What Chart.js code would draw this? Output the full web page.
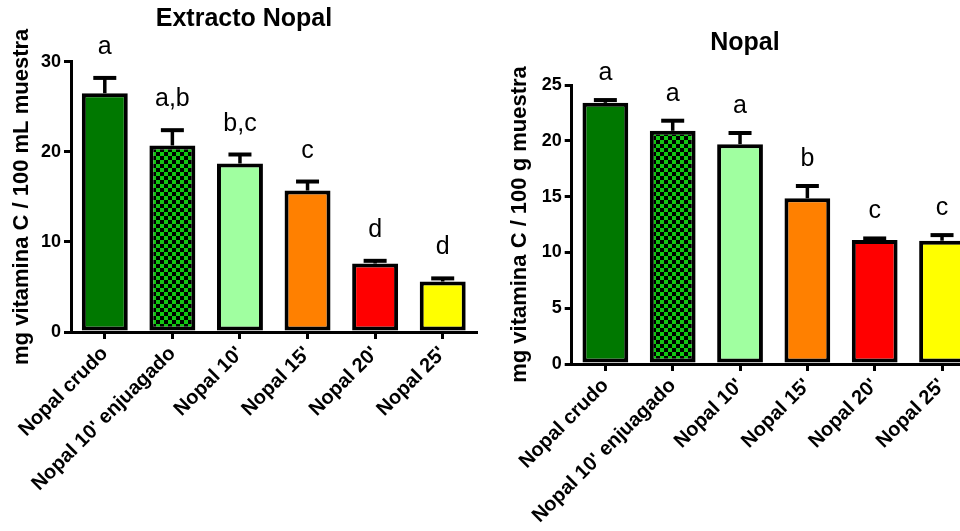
<!DOCTYPE html>
<html>
<head>
<meta charset="utf-8">
<script src="https://cdn.jsdelivr.net/npm/chart.js@4.4.1/dist/chart.umd.min.js"></script>
<style>
  html, body { margin: 0; padding: 0; background: #fff; }
  #wrap { position: relative; width: 960px; height: 531px; overflow: hidden; background: #fff; }
  #extracto { position: absolute; left: 0; top: 0; }
  #nopal { position: absolute; left: 480px; top: 0; }
</style>
</head>
<body>
<div id="wrap">
  <canvas id="extracto" width="488" height="531"></canvas>
  <canvas id="nopal" width="530" height="531"></canvas>
</div>
<script>
// Treatments (same for both panels)
const categories = ["Nopal crudo", "Nopal 10' enjuagado", "Nopal 10'", "Nopal 15'", "Nopal 20'", "Nopal 25'"];

// Vitamin C in the extract (mg / 100 mL): means and standard errors
const extractoMeans = [26.5, 20.7, 18.7, 15.7, 7.6, 5.6];
const extractoErrors = [1.7, 1.7, 1.0, 1.0, 0.3, 0.35];
const extractoLetters = ["a", "a,b", "b,c", "c", "d", "d"];
const extractoTicks = [0, 10, 20, 30];

// Vitamin C in the cladode (mg / 100 g): means and standard errors
const nopalMeans = [23.4, 20.9, 19.7, 14.85, 11.1, 11.05];
const nopalErrors = [0.25, 0.9, 1.0, 1.1, 0.15, 0.5];
const nopalLetters = ["a", "a", "a", "b", "c", "c"];
const nopalTicks = [0, 5, 10, 15, 20, 25];

const FONT = "'Liberation Sans', Arial, Helvetica, sans-serif";
Chart.defaults.font.family = FONT;
Chart.defaults.color = '#000';

// Black / green checkerboard fill for the rinsed sample
function checkerPattern() {
  const c = document.createElement('canvas');
  c.width = 8; c.height = 8;
  const g = c.getContext('2d');
  g.fillStyle = '#000';
  g.fillRect(0, 0, 8, 8);
  g.fillStyle = '#12c812';
  g.fillRect(0, 0, 4, 4);
  g.fillRect(4, 4, 4, 4);
  return g.createPattern(c, 'repeat');
}
const barColors = ['#007800', checkerPattern(), '#a0ffa0', '#ff8000', '#ff0000', '#ffff00'];

// Upper error bars (mean + SE) and significance letters above each bar
const errorBars = {
  id: 'errorBars',
  afterDatasetsDraw(chart, args, opts) {
    const { ctx } = chart;
    const y = chart.scales.y;
    const values = chart.data.datasets[0].data;
    const meta = chart.getDatasetMeta(0);
    ctx.save();
    ctx.strokeStyle = '#000';
    ctx.fillStyle = '#000';
    ctx.lineCap = 'butt';
    meta.data.forEach((bar, i) => {
      const top = y.getPixelForValue(values[i]);
      const end = y.getPixelForValue(values[i] + opts.errors[i]);
      ctx.lineWidth = 3.5;
      ctx.beginPath();
      ctx.moveTo(bar.x, top);
      ctx.lineTo(bar.x, end);
      ctx.stroke();
      ctx.lineWidth = 4;
      ctx.beginPath();
      ctx.moveTo(bar.x - 11.5, end);
      ctx.lineTo(bar.x + 11.5, end);
      ctx.stroke();
      ctx.font = '25px ' + FONT;
      ctx.textAlign = 'center';
      ctx.textBaseline = 'alphabetic';
      ctx.fillText(opts.letters[i], bar.x, end - opts.gap);
    });
    ctx.restore();
  }
};

function makeChart(id, cfg) {
  return new Chart(document.getElementById(id), {
    type: 'bar',
    data: {
      labels: categories,
      datasets: [{
        data: cfg.values,
        backgroundColor: barColors,
        borderColor: '#000',
        borderWidth: 4,
        borderSkipped: false,
        barPercentage: 0.68,
        categoryPercentage: 1
      }]
    },
    options: {
      responsive: false,
      animation: false,
      devicePixelRatio: 1,
      layout: { padding: 0 },
      plugins: {
        legend: { display: false },
        tooltip: { enabled: false },
        title: {
          display: true,
          text: cfg.title,
          color: '#000',
          font: { size: 25, weight: 'bold' },
          padding: { top: cfg.titleTop, bottom: cfg.titleBottom }
        },
        errorBars: { errors: cfg.errors, letters: cfg.letters, gap: cfg.gap }
      },
      scales: {
        x: {
          offset: true,
          grid: { display: true, offset: false, drawOnChartArea: false, drawTicks: true, tickLength: 7, lineWidth: 3, color: '#000' },
          border: { display: true, color: '#000', width: 3 },
          ticks: { autoSkip: false, maxRotation: 45, minRotation: 45, padding: 3, color: '#000', font: { size: 20, weight: 'bold' } },
          afterFit: s => { s.height = cfg.xHeight; s.paddingLeft = 0; s.paddingRight = 0; }
        },
        y: {
          min: 0,
          max: cfg.ticks[cfg.ticks.length - 1],
          afterBuildTicks: s => { s.ticks = cfg.ticks.map(v => ({ value: v })); },
          grid: { drawOnChartArea: false, drawTicks: true, tickLength: 7, lineWidth: 3, color: '#000' },
          border: { display: true, color: '#000', width: 3 },
          ticks: { padding: 3, color: '#000', font: { size: 18, weight: 'bold' } },
          title: {
            display: true,
            text: cfg.yTitle,
            color: '#000',
            font: { size: 22, weight: 'bold' },
            padding: { top: cfg.yTitlePad, bottom: 0 }
          },
          afterFit: s => { s.width = cfg.yWidth; s.paddingTop = 0; s.paddingBottom = 0; }
        },
        gap: {
          type: 'linear',
          position: 'right',
          display: true,
          grid: { display: false },
          border: { display: false },
          ticks: { display: false },
          afterFit: s => { s.width = cfg.rightGap; }
        }
      }
    },
    plugins: [errorBars]
  });
}

makeChart('extracto', {
  title: 'Extracto Nopal',
  yTitle: 'mg vitamina C / 100 mL muestra',
  values: extractoMeans,
  errors: extractoErrors,
  letters: extractoLetters,
  ticks: extractoTicks,
  gap: 24,
  titleTop: 3.7, titleBottom: 28,
  xHeight: 199,
  yWidth: 71,
  yTitlePad: 8.5,
  rightGap: 11.5
});

makeChart('nopal', {
  title: 'Nopal',
  yTitle: 'mg vitamina C / 100 g muestra',
  values: nopalMeans,
  errors: nopalErrors,
  letters: nopalLetters,
  ticks: nopalTicks,
  gap: 20,
  titleTop: 28, titleBottom: 27,
  xHeight: 167,
  yWidth: 91.7,
  yTitlePad: 27.2,
  rightGap: 34.3
});
</script>
</body>
</html>
